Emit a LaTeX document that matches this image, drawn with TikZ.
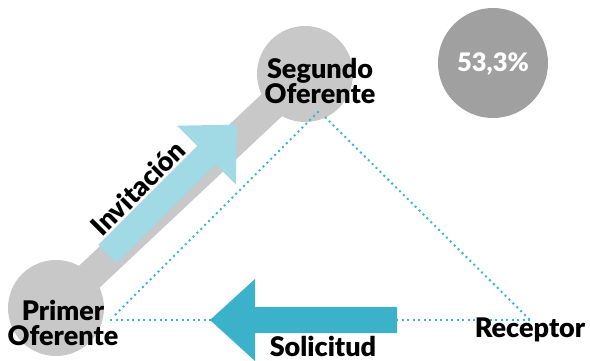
\documentclass[tikz,border=0pt]{standalone}
\usepackage{fontspec}
\setmainfont{Lato}
\newfontfamily\blackfont{Lato Black}
\definecolor{barGray}{HTML}{C8C8C8}
\definecolor{darkGray}{HTML}{A0A0A0}
\definecolor{lightBlue}{HTML}{A1D9E5}
\definecolor{teal}{HTML}{3CB1CA}
\definecolor{dotTeal}{HTML}{3DB4D0}
\tikzset{
  lbl/.style={font=\fontsize{27}{25}\selectfont\blackfont, text=black, inner sep=0pt, align=center},
  bubble/.style={circle, fill=barGray, inner sep=0pt, minimum size=96pt},
  dotline/.style={draw=dotTeal, line width=2pt, dash pattern=on 2pt off 3.5pt},
}
\begin{document}
\begin{tikzpicture}[x=1pt,y=-1pt]
\useasboundingbox (0,0) rectangle (590,360);
% circles
\node[bubble] (p) at (56,308) {};
\node[bubble] (s) at (305,74) {};
\node[circle, fill=darkGray, inner sep=0pt, minimum size=110pt] (pct) at (493,63) {};
% gray bar
\draw[barGray, line width=30pt] (p.center) -- (s.center);
% dotted triangle
\coordinate (pd) at (110,320);
\coordinate (pd2) at (115,315);
\coordinate (sl) at (320,110);
\coordinate (sr) at (325,117);
\coordinate (rd) at (530,320);
\draw[dotline] (pd) -- (rd);
\draw[dotline] (pd2) -- (sl);
\draw[dotline] (sr) -- (rd);
% Invitacion arrow
\fill[lightBlue] (98.3,244.8) -- (197.3,145.8) -- (177.2,125.7) -- (236.9,124.6)
  -- (235.8,184.3) -- (215.7,164.2) -- (116.7,263.2) -- cycle;
% Solicitud arrow
\fill[teal] (397,307) -- (255,307) -- (255,279) -- (210,320) -- (255,361)
  -- (255,333) -- (397,333) -- cycle;
% labels
\node[lbl] (ts) at (320,81) {Segundo\\Oferente};
\node[lbl] (tp) at (63,323) {Primer\\Oferente};
\node[lbl, anchor=base] (tr) at (530,337) {Receptor};
\node[lbl, anchor=base] (tsol) at (323,356) {Solicitud};
\node[lbl, rotate=45] (ti) at (138,188) {Invitación};
\node[lbl, font=\fontsize{25.5}{25}\selectfont\blackfont, text=white] (tpct) at (493,64) {53,3\%};
\end{tikzpicture}
\end{document}
